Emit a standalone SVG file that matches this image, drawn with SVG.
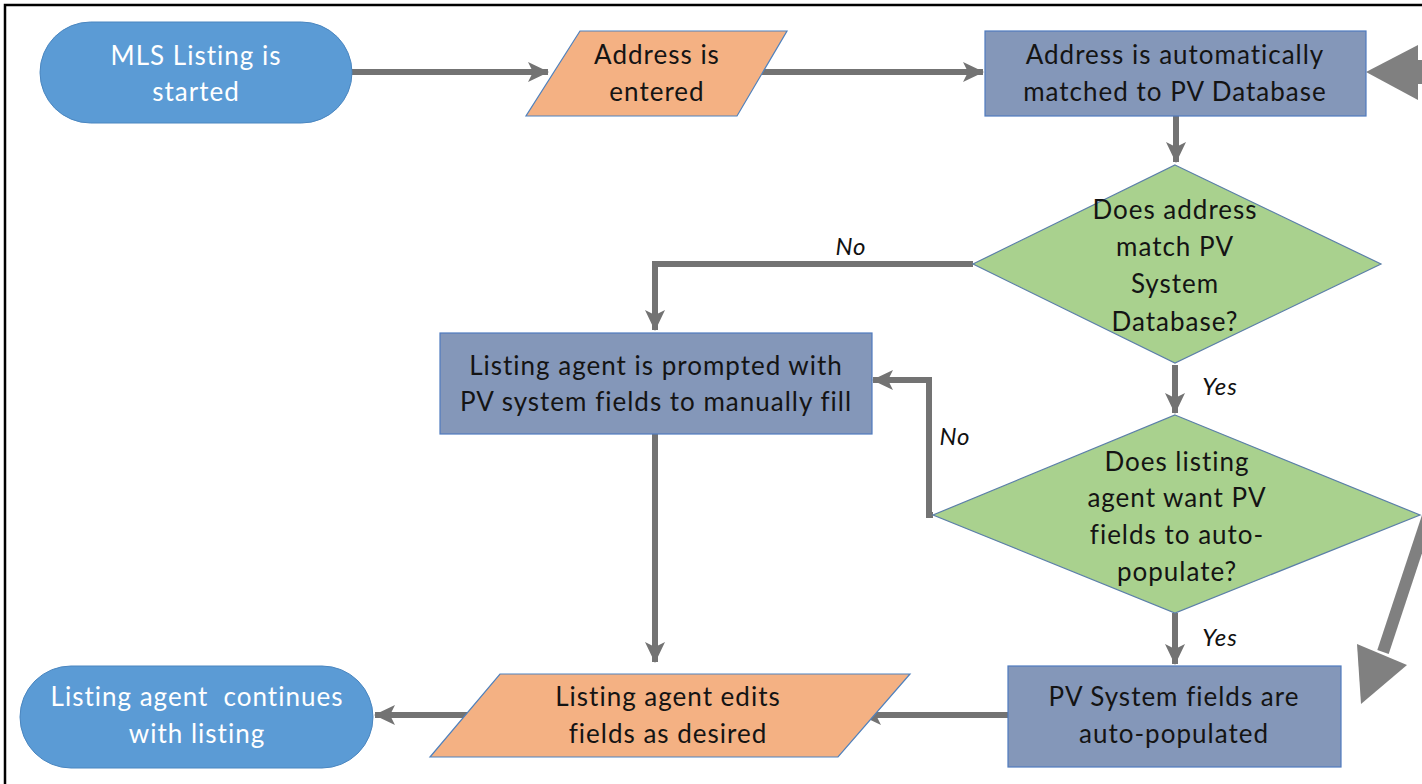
<svg xmlns="http://www.w3.org/2000/svg" width="1422" height="784" viewBox="0 0 1422 784">
<style>
.t{font-family:Lato,"Open Sans","Liberation Sans",sans-serif;font-size:26px;letter-spacing:1px;text-anchor:middle}
.w{fill:#ffffff}
.d{fill:#141414}
.lbl{font-family:Lato,"Open Sans","Liberation Sans",sans-serif;font-size:24px;letter-spacing:1px;font-style:italic;fill:#111;text-anchor:middle}
.term{fill:#5B9BD5;stroke:#4A86C0;stroke-width:1}
.io{fill:#F4B183;stroke:#4F81BD;stroke-width:1.2}
.proc{fill:#8497B9;stroke:#4F7BBE;stroke-width:1.2}
.dec{fill:#A9D18E;stroke:#5B7FA8;stroke-width:1.2}
.c{fill:none;stroke:#737373;stroke-width:6}
.big{fill:#808080}
</style>
<defs>
<marker id="ah" markerUnits="userSpaceOnUse" markerWidth="22" markerHeight="22" viewBox="0 0 22 22" refX="20" refY="11" orient="auto">
<path d="M0,1 L21,11 L0,21 L5,11 Z" fill="#737373"/>
</marker>
</defs>
<rect x="5" y="5" width="1440" height="800" fill="#ffffff" stroke="#000" stroke-width="2.5"/>

<g id="connectors">
<path class="c" d="M352,72 H548" marker-end="url(#ah)"/>
<path class="c" d="M762,72 H983" marker-end="url(#ah)"/>
<path class="c" d="M1176,116 V162" marker-end="url(#ah)"/>
<path class="c" d="M973,264 H655 V330" marker-end="url(#ah)"/>
<path class="c" d="M1175,365 V413" marker-end="url(#ah)"/>
<path class="c" d="M933,515 H929 V380 H873" marker-end="url(#ah)"/>
<path class="c" d="M655,434 V662" marker-end="url(#ah)"/>
<path class="c" d="M1175,613 V664" marker-end="url(#ah)"/>
<path class="c" d="M1008,715 H861" marker-end="url(#ah)"/>
<path class="c" d="M478,715 H375" marker-end="url(#ah)"/>
<rect class="big" x="1414" y="60" width="20" height="24"/>
<polygon class="big" points="1366,72 1418,45 1418,100"/>
<line x1="1430" y1="510" x2="1383" y2="652" stroke="#808080" stroke-width="12"/>
<polygon class="big" points="1357,644 1407,665 1361,704"/>
<text class="lbl" x="851" y="255">No</text>
<text class="lbl" x="955" y="445">No</text>
<text class="lbl" x="1220" y="395">Yes</text>
<text class="lbl" x="1220" y="646">Yes</text>
</g>

<g id="n1">
<rect class="term" x="40" y="22" width="312" height="101" rx="50.5"/>
<text class="t w" x="196" y="65">MLS Listing is</text>
<text class="t w" x="196" y="101">started</text>
</g>

<g id="n2">
<polygon class="io" points="580,31 787,31 737,116 526,116"/>
<text class="t d" x="657" y="64">Address is</text>
<text class="t d" x="657" y="101">entered</text>
</g>

<g id="n3">
<rect class="proc" x="985" y="31" width="381" height="85"/>
<text class="t d" x="1175" y="64">Address is automatically</text>
<text class="t d" x="1175" y="101">matched to PV Database</text>
</g>

<g id="n4">
<polygon class="dec" points="1175,165 1381,264 1175,363 973,264"/>
<text class="t d" x="1175" y="219">Does address</text>
<text class="t d" x="1175" y="256">match PV</text>
<text class="t d" x="1175" y="293">System</text>
<text class="t d" x="1175" y="331">Database?</text>
</g>

<g id="n5">
<rect class="proc" x="440" y="333" width="432" height="101"/>
<text class="t d" x="656" y="375">Listing agent is prompted with</text>
<text class="t d" x="656" y="411">PV system fields to manually fill</text>
</g>

<g id="n6">
<polygon class="dec" points="1175,415 1420,515 1175,613 933,515"/>
<text class="t d" x="1177" y="471">Does listing</text>
<text class="t d" x="1177" y="507">agent want PV</text>
<text class="t d" x="1177" y="544">fields to auto-</text>
<text class="t d" x="1177" y="581">populate?</text>
</g>

<g id="n7">
<rect class="proc" x="1008" y="666" width="333" height="101"/>
<text class="t d" x="1174" y="706">PV System fields are</text>
<text class="t d" x="1174" y="743">auto-populated</text>
</g>

<g id="n8">
<polygon class="io" points="500,674 910,674 838,757 430,757"/>
<text class="t d" x="668" y="706">Listing agent edits</text>
<text class="t d" x="668" y="743">fields as desired</text>
</g>

<g id="n9">
<rect class="term" x="20" y="666" width="353" height="102" rx="51"/>
<text class="t w" x="197" y="706" xml:space="preserve">Listing agent  continues</text>
<text class="t w" x="197" y="743">with listing</text>
</g>
</svg>
